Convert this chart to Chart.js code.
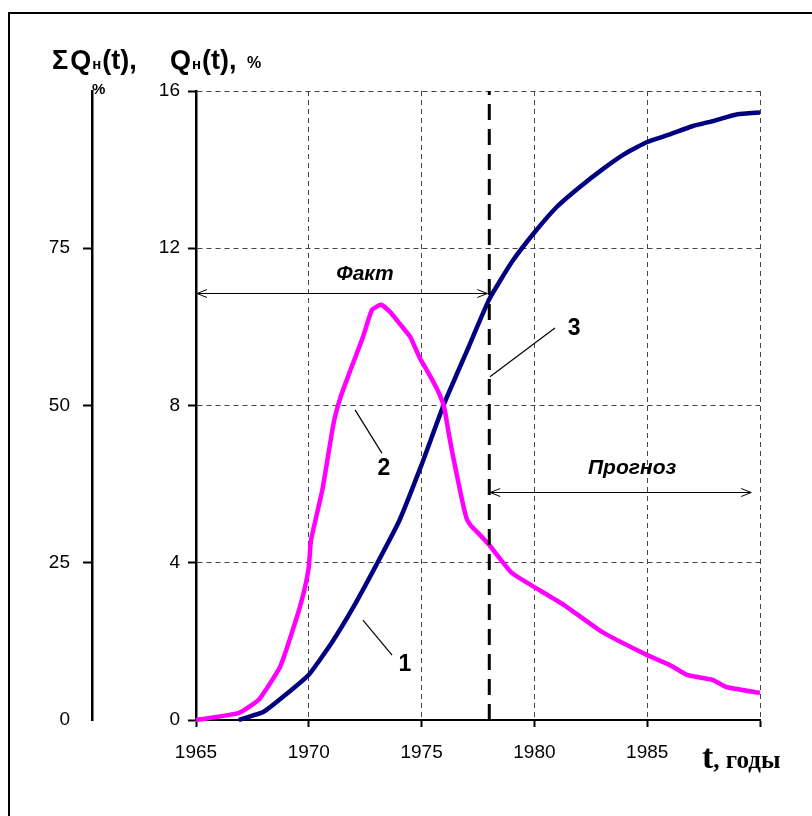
<!DOCTYPE html>
<html lang="ru">
<head>
<meta charset="utf-8">
<title>Q(t)</title>
<script src="https://cdn.jsdelivr.net/npm/chart.js@4.4.1/dist/chart.umd.min.js"></script>
<style>
  html, body { margin: 0; padding: 0; background: #fff; }
  canvas { display: block; }
</style>
</head>
<body>
<canvas id="chart" width="812" height="816"></canvas>
<script>
/* ============================
   DATA
============================ */
// curve 2: yearly output Q(t), %
const qYears  = [1965, 1966.9, 1967.8, 1968.7, 1969.0, 1969.5, 1969.8, 1970.0, 1970.1, 1970.6,
                 1971.1, 1971.4, 1971.8, 1972.4, 1972.8, 1973.2, 1973.6, 1974.0, 1974.5, 1974.9,
                 1975.3, 1975.7, 1976.0, 1976.2, 1976.4, 1976.7, 1976.85, 1977.0, 1977.2, 1977.5,
                 1978.0, 1979.0, 1980.0, 1981.3, 1983.0, 1985.0, 1986.0, 1986.8, 1987.9, 1988.5, 1990];
const qValues = [0, 0.18, 0.53, 1.32, 1.78, 2.67, 3.3, 3.9, 4.58, 5.85,
                 7.55, 8.2, 8.83, 9.74, 10.43, 10.56, 10.38, 10.1, 9.74, 9.23,
                 8.83, 8.4, 7.96, 7.3, 6.69, 5.85, 5.45, 5.12, 4.93, 4.76,
                 4.45, 3.74, 3.38, 2.93, 2.24, 1.65, 1.40, 1.14, 1.02, 0.84, 0.69];

// curve 1: cumulative output ΣQ(t), %
const sumYears  = [1966.9, 1968, 1969, 1970, 1971, 1972, 1973, 1974, 1975, 1976, 1977, 1978,
                   1979, 1980, 1981, 1982, 1983, 1984, 1985, 1986, 1987, 1988, 1989, 1990];
const sumValues = [0, 1.3, 4.1, 7.2, 12.2, 18.1, 24.7, 31.6, 40.6, 50.3, 58.6, 66.9,
                   72.8, 77.5, 81.6, 84.7, 87.5, 90.0, 91.9, 93.1, 94.4, 95.3, 96.3, 96.6];

// line 3: fact / forecast boundary
const splitYear = 1978;

const xTicks   = [1965, 1970, 1975, 1980, 1985, 1990];
const yTicks   = [0, 4, 8, 12, 16];
const sumTicks = [0, 25, 50, 75];

/* ============================
   ANNOTATIONS (in axis units)
============================ */
const periods = [
  { text: 'Факт',    from: 1965,      to: 1978,   y: 10.86, tx: 1972.49, ty: 11.33 },
  { text: 'Прогноз', from: splitYear, to: 1989.7, y: 5.80,  tx: 1984.33, ty: 6.40 }
];
const callouts = [
  { text: '1', x1: 1972.40, y1: 2.54, x2: 1973.69, y2: 1.65, tx: 1974.26, ty: 1.40 },
  { text: '2', x1: 1972.05, y1: 7.89, x2: 1973.24, y2: 6.79, tx: 1973.33, ty: 6.39 },
  { text: '3', x1: 1980.91, y1: 9.97, x2: 1978.03, y2: 8.73, tx: 1981.76, ty: 9.95 }
];

const SANS = '"Liberation Sans", Arial, sans-serif';
const SERIF = '"Liberation Serif", "Times New Roman", serif';

Chart.defaults.color = '#000';
Chart.defaults.font.family = SANS;

/* ============================
   HELPERS
============================ */
function drawRun(ctx, x, y, parts) {
  parts.forEach(([text, font, gap]) => {
    ctx.font = font;
    ctx.fillText(text, x, y);
    x += ctx.measureText(text).width + (gap || 0);
  });
}

function arrowHead(ctx, x, y, dir) {
  ctx.beginPath();
  ctx.moveTo(x - dir * 10, y - 4);
  ctx.lineTo(x, y);
  ctx.lineTo(x - dir * 10, y + 4);
  ctx.stroke();
}

/* ============================
   OVERLAY: headings, arrows, callouts
============================ */
const overlay = {
  id: 'overlay',
  afterDraw(chart) {
    const { ctx, scales: { x, y } } = chart;
    const px = v => x.getPixelForValue(v);
    const py = v => y.getPixelForValue(v);
    ctx.save();

    // frame
    ctx.strokeStyle = '#000';
    ctx.lineWidth = 2;
    ctx.beginPath();
    ctx.moveTo(9, 816);
    ctx.lineTo(9, 13);
    ctx.lineTo(812, 13);
    ctx.stroke();

    // axis headings
    ctx.fillStyle = '#000';
    ctx.textAlign = 'left';
    ctx.textBaseline = 'alphabetic';
    drawRun(ctx, 52, 69, [
      ['Σ', 'bold 27px ' + SANS, 2], ['Q', 'bold 27px ' + SANS, 1],
      ['н', 'bold 15px ' + SANS, 1], ['(t),', 'bold 27px ' + SANS]
    ]);
    drawRun(ctx, 170, 69, [
      ['Q', 'bold 27px ' + SANS, 1], ['н', 'bold 15px ' + SANS, 1],
      ['(t),', 'bold 27px ' + SANS]
    ]);
    ctx.font = 'bold 16px ' + SANS;
    ctx.fillText('%', 247, 68);
    ctx.font = 'bold 15px ' + SANS;
    ctx.fillText('%', 92, 94);

    drawRun(ctx, 702, 768, [
      ['t', 'bold 34px ' + SERIF], [', годы', 'bold 25px ' + SERIF]
    ]);

    // fact / forecast arrows
    ctx.lineWidth = 1;
    periods.forEach(p => {
      const x1 = px(p.from) + 1, x2 = px(p.to) - 2, yy = Math.round(py(p.y)) + 0.5;
      ctx.beginPath();
      ctx.moveTo(x1, yy);
      ctx.lineTo(x2, yy);
      ctx.stroke();
      arrowHead(ctx, x1, yy, -1);
      arrowHead(ctx, x2, yy, 1);
      ctx.font = 'italic bold 21px ' + SANS;
      ctx.textAlign = 'center';
      ctx.textBaseline = 'middle';
      ctx.fillText(p.text, px(p.tx), py(p.ty));
    });

    // curve callouts
    callouts.forEach(c => {
      ctx.lineWidth = 1.2;
      ctx.beginPath();
      ctx.moveTo(px(c.x1), py(c.y1));
      ctx.lineTo(px(c.x2), py(c.y2));
      ctx.stroke();
      ctx.font = 'bold 23px ' + SANS;
      ctx.textAlign = 'center';
      ctx.textBaseline = 'middle';
      ctx.fillText(c.text, px(c.tx), py(c.ty));
    });

    ctx.restore();
  }
};

/* ============================
   CHART
============================ */
const toPoints = (xs, ys) => xs.map((t, i) => ({ x: t, y: ys[i] }));
const gridGray = '#444';

new Chart(document.getElementById('chart'), {
  type: 'line',
  data: {
    datasets: [
      {
        label: '3',
        data: [{ x: splitYear, y: 0 }, { x: splitYear, y: 16 }],
        borderColor: '#000',
        borderWidth: 3,
        borderDash: [16, 9],
        pointRadius: 0,
        clip: false,
        order: 0
      },
      {
        label: '2',
        data: toPoints(qYears, qValues),
        borderColor: '#ff00ff',
        borderWidth: 4.5,
        borderJoinStyle: 'round',
        pointRadius: 0,
        tension: 0.15,
        clip: false,
        order: 1
      },
      {
        label: '1',
        data: toPoints(sumYears, sumValues),
        yAxisID: 'y2',
        borderColor: '#000080',
        borderWidth: 4.5,
        borderJoinStyle: 'round',
        pointRadius: 0,
        tension: 0.15,
        clip: false,
        order: 2
      }
    ]
  },
  options: {
    responsive: false,
    animation: false,
    events: [],
    layout: { padding: { left: 0, top: 91, right: 52, bottom: 56 } },
    plugins: { legend: { display: false }, tooltip: { enabled: false } },
    scales: {
      x: {
        type: 'linear',
        min: 1965,
        max: 1990,
        afterBuildTicks: s => { s.ticks = xTicks.map(v => ({ value: v })); },
        ticks: {
          callback: v => (v === 1990 ? '' : String(v)),
          font: { size: 19 },
          padding: 14,
          maxRotation: 0,
          autoSkip: false
        },
        grid: {
          color: c => (c.tick && c.tick.value === 1965 ? 'rgba(0,0,0,0)' : gridGray),
          lineWidth: 1,
          tickLength: 7,
          tickColor: '#000',
          tickWidth: 2
        },
        border: { color: '#000', width: 2, dash: [5, 4] },
        afterFit: s => { s.height = 40; }
      },
      y: {
        position: 'left',
        weight: 0,
        min: 0,
        max: 16,
        afterBuildTicks: s => { s.ticks = yTicks.map(v => ({ value: v })); },
        ticks: { font: { size: 19 }, padding: 8 },
        grid: {
          color: c => (c.tick && c.tick.value === 0 ? 'rgba(0,0,0,0)' : gridGray),
          lineWidth: 1,
          tickLength: 8,
          tickColor: '#000',
          tickWidth: 2
        },
        border: { color: '#000', width: 2.5, dash: [5, 4] },
        afterFit: s => { s.width = 104; }
      },
      y2: {
        position: 'left',
        weight: 1,
        min: 0,
        max: 100,
        afterBuildTicks: s => { s.ticks = sumTicks.map(v => ({ value: v })); },
        ticks: { font: { size: 19 }, padding: 13 },
        grid: {
          drawOnChartArea: false,
          tickLength: 9,
          tickColor: c => (c.tick && c.tick.value === 0 ? 'rgba(0,0,0,0)' : '#000'),
          tickWidth: 2
        },
        border: { color: '#000', width: 2.5 },
        afterFit: s => { s.width = 92; }
      }
    }
  },
  plugins: [overlay]
});
</script>
</body>
</html>
